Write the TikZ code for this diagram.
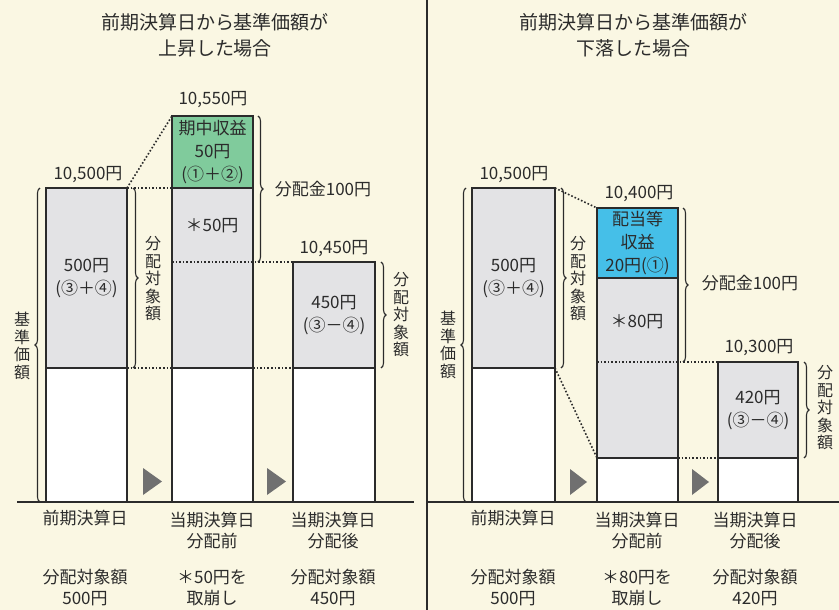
\documentclass[tikz,border=0pt]{standalone}
\usepackage{fontspec}
\setmainfont{Noto Sans CJK JP}
\usetikzlibrary{decorations.pathreplacing}
\definecolor{paper}{HTML}{FAF7E3}
\definecolor{ink}{HTML}{2B2B2B}
\definecolor{barfill}{HTML}{E3E3E5}
\definecolor{gain}{HTML}{80CB9C}
\definecolor{dividend}{HTML}{45BFE8}
\definecolor{pointer}{HTML}{707070}
\tikzset{
  seg/.style={draw=ink, line width=1.5pt, inner sep=0pt, outer sep=0pt, anchor=north west,
    minimum width=81pt, align=center, text=ink, font=\fontsize{17}{23}\selectfont},
  gap/.style={draw=ink, dotted, line width=1.6pt},
  curly/.style={draw=ink, decorate, decoration={brace, amplitude=5pt}, line width=1.1pt},
  lbl/.style={font=\fontsize{17}{21}\selectfont, align=center, text=ink},
  vlbl/.style={font=\fontsize{16}{17.5}\selectfont, align=center, text=ink},
  head/.style={font=\fontsize{19}{26}\selectfont, align=center, text=ink}
}

\begin{document}
\begin{tikzpicture}[x=1pt,y=-1pt]
  \fill[paper] (0,0) rectangle (839,610);
  \useasboundingbox (0,0) rectangle (839,610);
  \draw[ink,line width=1.2pt] (427,0) -- (427,610);

  % rise case
  \node[head] (up) at (215,35) {前期決算日から基準価額が\\上昇した場合};
  \node[seg,fill=barfill,minimum height=180pt] (a1) at (46,188) {500円\\(③＋④)};
  \node[seg,fill=white,minimum height=134pt] (a2) at (46,368) {};
  \node[seg,fill=gain,minimum height=72pt] (b1) at (172,116) {期中収益\\50円\\(①＋②)};
  \node[seg,fill=barfill,minimum height=180pt] (b2) at (172,188) {};
  \node[seg,fill=white,minimum height=134pt] (b3) at (172,368) {};
  \node[seg,fill=barfill,minimum height=106pt,minimum width=82pt] (c1) at (293,262) {450円\\(③－④)};
  \node[seg,fill=white,minimum height=134pt,minimum width=82pt] (c2) at (293,368) {};
  \draw[ink,line width=2pt] (17,502) -- (414,502);

  \draw[gap] (a1.north east) -- (b1.north west);
  \draw[gap] (a1.north east) -- (b2.north west);
  \draw[gap] (a2.north east) -- (b3.north west);
  \draw[gap] (b3.north east) -- (c2.north west);
  \draw[gap] (b2.west |- c1.north) -- (c1.north west);

  \node[lbl] (v1) at (88,175) {10,500円};
  \node[lbl] (v2) at (213,100) {10,550円};
  \node[lbl] (v3) at (334,249) {10,450円};
  \node[lbl] (draw1) at (212,226) {＊50円};

  \draw[curly] ([xshift=-6pt]a2.south west) -- ([xshift=-6pt]a1.north west);
  \draw[curly] ([xshift=6pt]a1.north east) -- ([xshift=6pt]a1.south east);
  \draw[curly] ([xshift=5pt]b1.north east) -- ([xshift=5pt]b2.east |- c1.north);
  \draw[curly] ([xshift=6pt]c1.north east) -- ([xshift=6pt]c1.south east);
  \node[vlbl] (nav1) at (22,346) {基\\準\\価\\額};
  \node[vlbl] (base1) at (153,279) {分\\配\\対\\象\\額};
  \node[lbl] (pay1) at (323,189) {分配金100円};
  \node[vlbl] (base2) at (401,315) {分\\配\\対\\象\\額};

  \fill[pointer] (143,468) -- (162,481.5) -- (143,495) -- cycle;
  \fill[pointer] (267,468) -- (286,481.5) -- (267,495) -- cycle;

  \node[lbl] (d1) at (85,531) {前期決算日\\\strut};
  \node[lbl] (d2) at (212,531) {当期決算日\\分配前};
  \node[lbl] (d3) at (333,531) {当期決算日\\分配後};
  \node[lbl] (s1) at (85,588) {分配対象額\\500円};
  \node[lbl] (s2) at (212,588) {＊50円を\\取崩し};
  \node[lbl] (s3) at (333,588) {分配対象額\\450円};

  % fall case
  \node[head] (down) at (633,35) {前期決算日から基準価額が\\下落した場合};
  \node[seg,fill=barfill,minimum height=180pt,minimum width=83pt] (p1) at (472,188) {500円\\(③＋④)};
  \node[seg,fill=white,minimum height=134pt,minimum width=83pt] (p2) at (472,368) {};
  \node[seg,fill=dividend,minimum height=70pt] (q1) at (597,208) {配当等\\収益\\20円(①)};
  \node[seg,fill=barfill,minimum height=180pt] (q2) at (597,278) {};
  \node[seg,fill=white,minimum height=44pt] (q3) at (597,458) {};
  \node[seg,fill=barfill,minimum height=96pt,minimum width=80pt] (r1) at (718,362) {420円\\(③－④)};
  \node[seg,fill=white,minimum height=44pt,minimum width=80pt] (r2) at (718,458) {};
  \draw[ink,line width=2pt] (428,502) -- (839,502);

  \draw[gap] (p1.north east) -- (q1.north west);
  \draw[gap] (p2.north east) -- (q3.north west);
  \draw[gap] (q3.north east) -- (r2.north west);
  \draw[gap] (q2.west |- r1.north) -- (r1.north west);

  \node[lbl] (w1) at (514,175) {10,500円};
  \node[lbl] (w2) at (639,194) {10,400円};
  \node[lbl] (w3) at (759,348) {10,300円};
  \node[lbl] (draw2) at (637,322) {＊80円};

  \draw[curly] ([xshift=-6pt]p2.south west) -- ([xshift=-6pt]p1.north west);
  \draw[curly] ([xshift=6pt]p1.north east) -- ([xshift=6pt]p1.south east);
  \draw[curly] ([xshift=5pt]q1.north east) -- ([xshift=5pt]q2.east |- r1.north);
  \draw[curly] ([xshift=6pt]r1.north east) -- ([xshift=6pt]r1.south east);
  \node[vlbl] (nav2) at (448,345) {基\\準\\価\\額};
  \node[vlbl] (base3) at (578,279) {分\\配\\対\\象\\額};
  \node[lbl] (pay2) at (750,283) {分配金100円};
  \node[vlbl] (base4) at (825,408) {分\\配\\対\\象\\額};

  \fill[pointer] (570,469) -- (587,482) -- (570,495) -- cycle;
  \fill[pointer] (692,469) -- (709,482) -- (692,495) -- cycle;

  \node[lbl] (e1) at (513,531) {前期決算日\\\strut};
  \node[lbl] (e2) at (637,531) {当期決算日\\分配前};
  \node[lbl] (e3) at (755,531) {当期決算日\\分配後};
  \node[lbl] (u1) at (513,588) {分配対象額\\500円};
  \node[lbl] (u2) at (637,588) {＊80円を\\取崩し};
  \node[lbl] (u3) at (755,588) {分配対象額\\420円};
\end{tikzpicture}
\end{document}
